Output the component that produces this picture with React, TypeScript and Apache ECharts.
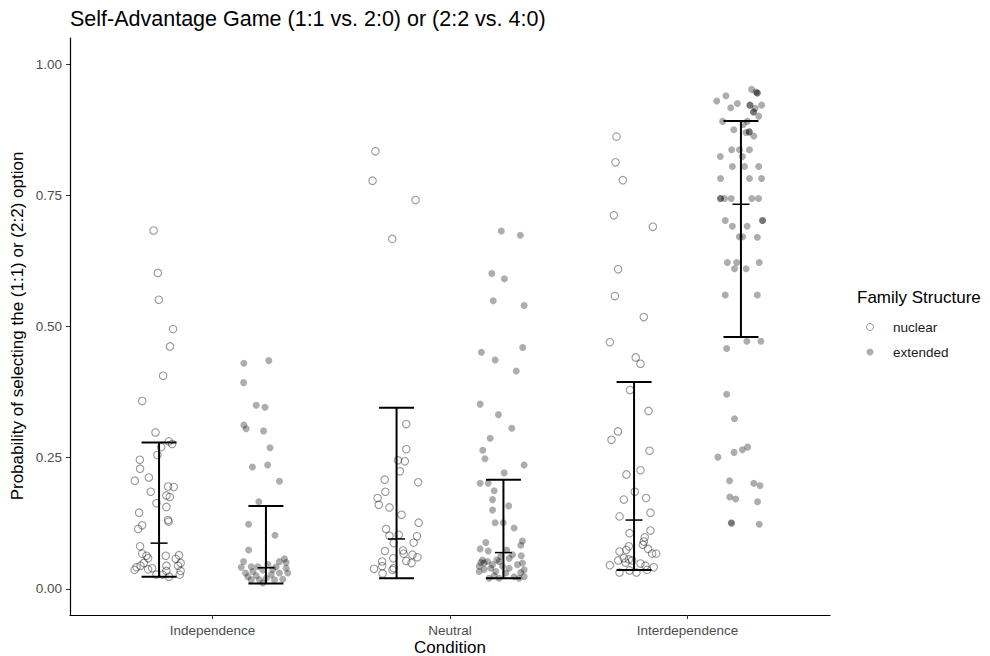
import React, { useEffect, useRef } from "react";
import * as echarts from "echarts";

const categories = ["Independence", "Neutral", "Interdependence"];
const yTicks = [0, 0.25, 0.5, 0.75, 1.0];
const seriesNames = ["nuclear", "extended"];

// jittered points: [x position in axis units, probability]
const indNuclear = [[0.752,0.683],[0.770,0.602],[0.774,0.551],[0.834,0.495],[0.821,0.462],[0.792,0.406],[0.704,0.358],[0.760,0.298],[0.816,0.281],[0.830,0.276],[0.784,0.270],[0.768,0.255],[0.694,0.246],[0.695,0.229],[0.732,0.212],[0.673,0.206],[0.813,0.195],[0.837,0.194],[0.740,0.185],[0.806,0.178],[0.820,0.175],[0.764,0.163],[0.806,0.156],[0.691,0.145],[0.813,0.131],[0.815,0.128],[0.704,0.121],[0.687,0.114],[0.695,0.081],[0.704,0.067],[0.722,0.063],[0.729,0.058],[0.803,0.063],[0.859,0.064],[0.845,0.057],[0.711,0.049],[0.866,0.049],[0.680,0.041],[0.746,0.039],[0.806,0.044],[0.855,0.044],[0.672,0.036],[0.729,0.037],[0.866,0.034],[0.806,0.034],[0.764,0.027],[0.817,0.023],[0.862,0.027],[0.790,0.027],[0.697,0.044]];
const indExtended = [[1.132,0.430],[1.237,0.435],[1.131,0.393],[1.184,0.350],[1.221,0.346],[1.132,0.312],[1.142,0.305],[1.215,0.301],[1.242,0.269],[1.168,0.232],[1.232,0.236],[1.282,0.205],[1.195,0.166],[1.152,0.123],[1.263,0.102],[1.152,0.074],[1.131,0.052],[1.121,0.041],[1.303,0.057],[1.282,0.052],[1.268,0.042],[1.310,0.039],[1.317,0.030],[1.296,0.018],[1.170,0.033],[1.184,0.025],[1.149,0.023],[1.198,0.017],[1.226,0.020],[1.247,0.027],[1.261,0.017],[1.163,0.042],[1.212,0.036],[1.254,0.037],[1.233,0.046],[1.139,0.030],[1.191,0.042],[1.282,0.030],[1.212,0.011],[1.163,0.017],[1.310,0.050]];
const neuNuclear = [[1.686,0.834],[1.674,0.778],[1.855,0.741],[1.757,0.667],[1.816,0.314],[1.816,0.266],[1.781,0.245],[1.810,0.243],[1.789,0.224],[1.725,0.208],[1.866,0.203],[1.728,0.185],[1.695,0.173],[1.700,0.160],[1.745,0.155],[1.796,0.141],[1.868,0.126],[1.731,0.114],[1.745,0.101],[1.784,0.103],[1.861,0.100],[1.763,0.087],[1.847,0.088],[1.726,0.072],[1.802,0.073],[1.805,0.067],[1.842,0.065],[1.863,0.060],[1.761,0.058],[1.816,0.053],[1.838,0.049],[1.714,0.052],[1.714,0.043],[1.680,0.038],[1.763,0.039],[1.716,0.029],[1.758,0.036]];
const neuExtended = [[2.216,0.682],[2.296,0.674],[2.176,0.601],[2.229,0.591],[2.182,0.549],[2.312,0.540],[2.306,0.460],[2.132,0.451],[2.190,0.436],[2.279,0.415],[2.127,0.352],[2.204,0.332],[2.260,0.306],[2.169,0.287],[2.138,0.264],[2.147,0.248],[2.312,0.236],[2.228,0.221],[2.127,0.201],[2.161,0.201],[2.186,0.187],[2.179,0.170],[2.247,0.158],[2.179,0.150],[2.190,0.126],[2.224,0.126],[2.270,0.116],[2.151,0.088],[2.305,0.091],[2.298,0.083],[2.127,0.076],[2.161,0.072],[2.239,0.074],[2.137,0.055],[2.158,0.052],[2.123,0.043],[2.144,0.037],[2.172,0.039],[2.193,0.033],[2.207,0.052],[2.214,0.062],[2.249,0.058],[2.263,0.065],[2.300,0.063],[2.305,0.049],[2.312,0.036],[2.298,0.031],[2.312,0.023],[2.270,0.023],[2.235,0.030],[2.221,0.043],[2.186,0.025],[2.165,0.020],[2.123,0.033],[2.144,0.049],[2.179,0.046],[2.249,0.039],[2.284,0.046],[2.207,0.020],[2.291,0.020],[2.130,0.050],[2.197,0.055]];
const intNuclear = [[2.701,0.862],[2.697,0.813],[2.728,0.779],[2.690,0.712],[2.854,0.690],[2.708,0.609],[2.694,0.558],[2.816,0.518],[2.673,0.470],[2.782,0.441],[2.802,0.429],[2.758,0.379],[2.836,0.339],[2.707,0.300],[2.680,0.284],[2.840,0.263],[2.802,0.226],[2.743,0.218],[2.778,0.185],[2.732,0.170],[2.826,0.173],[2.844,0.145],[2.714,0.138],[2.756,0.106],[2.844,0.111],[2.820,0.098],[2.816,0.090],[2.812,0.084],[2.753,0.081],[2.742,0.074],[2.714,0.071],[2.834,0.076],[2.851,0.067],[2.868,0.067],[2.732,0.058],[2.708,0.054],[2.753,0.056],[2.767,0.054],[2.802,0.048],[2.823,0.044],[2.858,0.041],[2.673,0.045],[2.714,0.031],[2.756,0.035],[2.785,0.031],[2.830,0.036],[2.739,0.050]];
const intExtended = [[3.270,0.952],[3.288,0.947],[3.294,0.945],[3.294,0.945],[3.162,0.940],[3.123,0.930],[3.210,0.925],[3.263,0.922],[3.263,0.922],[3.312,0.922],[3.182,0.917],[3.285,0.916],[3.278,0.909],[3.278,0.909],[3.300,0.901],[3.148,0.891],[3.252,0.891],[3.235,0.885],[3.195,0.875],[3.246,0.870],[3.260,0.871],[3.260,0.871],[3.279,0.863],[3.186,0.837],[3.219,0.837],[3.261,0.837],[3.138,0.824],[3.231,0.824],[3.189,0.805],[3.240,0.805],[3.300,0.805],[3.139,0.782],[3.261,0.782],[3.312,0.782],[3.139,0.744],[3.139,0.744],[3.156,0.744],[3.184,0.744],[3.271,0.744],[3.299,0.744],[3.159,0.702],[3.316,0.702],[3.316,0.702],[3.189,0.691],[3.251,0.691],[3.218,0.671],[3.232,0.671],[3.294,0.670],[3.168,0.622],[3.207,0.622],[3.302,0.622],[3.198,0.610],[3.247,0.610],[3.159,0.560],[3.294,0.560],[3.250,0.472],[3.309,0.472],[3.165,0.458],[3.165,0.371],[3.198,0.324],[3.253,0.270],[3.231,0.265],[3.196,0.260],[3.128,0.251],[3.177,0.206],[3.279,0.201],[3.305,0.197],[3.178,0.175],[3.203,0.171],[3.295,0.166],[3.184,0.126],[3.186,0.125],[3.302,0.123]];

// summary error bars (dodged group centres)
const errX = [0.775, 1.225, 1.775, 2.225, 2.775, 3.225];
const errLow = [0.023, 0.010, 0.020, 0.020, 0.036, 0.480];
const errMid = [0.087, 0.040, 0.095, 0.069, 0.131, 0.733];
const errHigh = [0.279, 0.158, 0.345, 0.208, 0.394, 0.892];

const FONT = "'Liberation Sans', Arial, Helvetica, sans-serif";

export default function App() {
  const ref = useRef<HTMLDivElement>(null);
  useEffect(() => {
    document.body.style.margin = "0";
    if (!ref.current) return;
    const chart = echarts.init(ref.current, undefined, { renderer: "svg" });
    const nuclearStyle = { color: "rgba(0,0,0,0)", borderColor: "rgba(0,0,0,0.5)", borderWidth: 1.1 };
    const extendedStyle = { color: "rgba(0,0,0,0.4)", borderWidth: 0 };
    const errData = errX.map((x, i) => [x, errLow[i], errMid[i], errHigh[i]]);
    chart.setOption({
      animation: false,
      backgroundColor: "#ffffff",
      textStyle: { fontFamily: FONT },
      grid: { left: 70, right: 160, top: 38, bottom: 41, containLabel: false, outerBoundsMode: "none" },
      xAxis: {
        type: "value",
        min: 0.4,
        max: 3.6,
        splitLine: { show: false },
        axisLine: { show: true, onZero: false, lineStyle: { color: "#000", width: 1.2 } },
        axisTick: { show: true, length: 4, customValues: [1, 2, 3], lineStyle: { color: "#333", width: 1 } },
        axisLabel: {
          customValues: [1, 2, 3],
          formatter: (v: number) => categories[Math.round(v) - 1] ?? "",
          color: "#4d4d4d",
          fontSize: 13.5,
          margin: 8,
          fontFamily: FONT,
        },
      },
      yAxis: {
        type: "value",
        min: -0.05,
        max: 1.05,
        splitLine: { show: false },
        axisLine: { show: true, onZero: false, lineStyle: { color: "#000", width: 1.2 } },
        axisTick: { show: true, length: 4, customValues: yTicks, lineStyle: { color: "#333", width: 1 } },
        axisLabel: {
          customValues: yTicks,
          formatter: (v: number) => v.toFixed(2),
          color: "#4d4d4d",
          fontSize: 13.5,
          margin: 8,
          fontFamily: FONT,
        },
      },
      legend: {
        data: [
          { name: seriesNames[0], itemStyle: { color: "rgba(0,0,0,0)", borderColor: "rgba(0,0,0,0.5)", borderWidth: 1 } },
          { name: seriesNames[1], itemStyle: { color: "rgba(0,0,0,0.4)", borderWidth: 0 } },
        ],
        orient: "vertical",
        left: 861,
        top: 315,
        icon: "circle",
        itemWidth: 36,
        itemHeight: 7,
        itemGap: 11,
        textStyle: { fontSize: 13.5, color: "#1a1a1a", fontFamily: FONT },
      },
      graphic: [
        {
          type: "text",
          x: 70,
          y: 19,
          style: { text: "Self-Advantage Game (1:1 vs. 2:0) or (2:2 vs. 4:0)", fontSize: 21.5, fontFamily: FONT, fill: "#000", align: "left", verticalAlign: "middle" },
        },
        {
          type: "text",
          x: 450,
          y: 647,
          style: { text: "Condition", fontSize: 17, fontFamily: FONT, fill: "#000", align: "center", verticalAlign: "middle" },
        },
        {
          type: "text",
          x: 17,
          y: 326,
          rotation: Math.PI / 2,
          style: { text: "Probability of selecting the (1:1) or (2:2) option", fontSize: 17, fontFamily: FONT, fill: "#000", align: "center", verticalAlign: "middle" },
        },
        {
          type: "text",
          x: 857,
          y: 297,
          style: { text: "Family Structure", fontSize: 17, fontFamily: FONT, fill: "#000", align: "left", verticalAlign: "middle" },
        },
      ],
      series: [
        {
          name: seriesNames[0],
          type: "scatter",
          symbol: "circle",
          symbolSize: 7.5,
          itemStyle: nuclearStyle,
          data: [...indNuclear, ...neuNuclear, ...intNuclear],
          z: 2,
        },
        {
          name: seriesNames[1],
          type: "scatter",
          symbol: "circle",
          symbolSize: 7,
          itemStyle: extendedStyle,
          data: [...indExtended, ...neuExtended, ...intExtended],
          z: 2,
        },
        {
          name: "summary",
          type: "custom",
          z: 5,
          encode: { x: 0, y: [1, 2, 3] },
          data: errData,
          renderItem: (params: any, api: any) => {
            const x = api.value(0);
            const lo = api.coord([x, api.value(1)]);
            const md = api.coord([x, api.value(2)]);
            const hi = api.coord([x, api.value(3)]);
            const capHalf = 17.5;
            const midHalf = 8.5;
            const st = { stroke: "#000", lineWidth: 2 };
            return {
              type: "group",
              children: [
                { type: "line", shape: { x1: lo[0], y1: lo[1], x2: hi[0], y2: hi[1] }, style: st },
                { type: "line", shape: { x1: hi[0] - capHalf, y1: hi[1], x2: hi[0] + capHalf, y2: hi[1] }, style: st },
                { type: "line", shape: { x1: lo[0] - capHalf, y1: lo[1], x2: lo[0] + capHalf, y2: lo[1] }, style: st },
                { type: "line", shape: { x1: md[0] - midHalf, y1: md[1], x2: md[0] + midHalf, y2: md[1] }, style: { stroke: "#000", lineWidth: 1.5 } },
              ],
            };
          },
        },
      ],
    });
    return () => chart.dispose();
  }, []);
  return <div ref={ref} style={{ width: 990, height: 656 }} />;
}
